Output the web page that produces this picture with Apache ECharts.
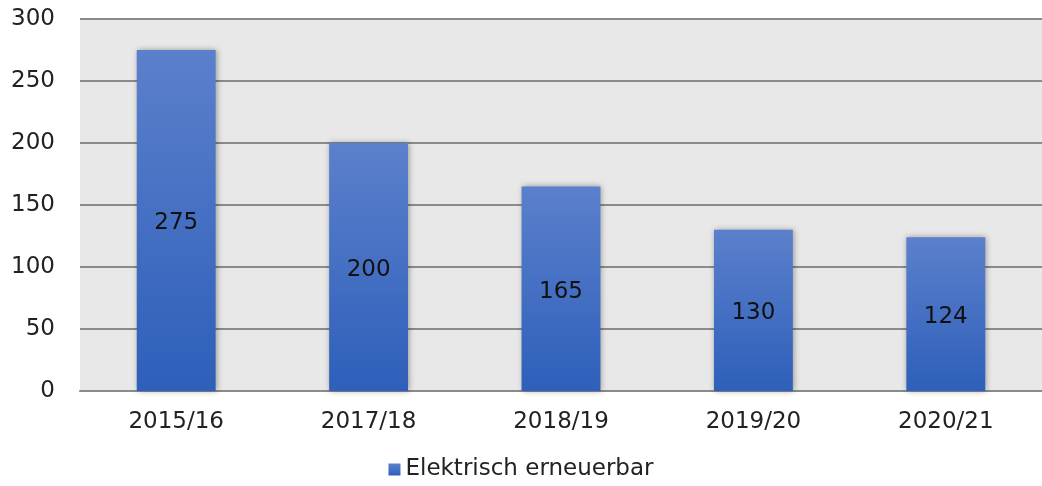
<!DOCTYPE html>
<html>
<head>
<meta charset="utf-8">
<script src="https://cdn.jsdelivr.net/npm/echarts@6/dist/echarts.min.js"></script>
<style>
  html, body { margin: 0; padding: 0; background: #fff; }
  #chart { width: 1042px; height: 486px; }
</style>
</head>
<body>
<div id="chart"></div>
<script>
// Werte
const years = ['2015/16', '2017/18', '2018/19', '2019/20', '2020/21'];
const renewable = [275, 200, 165, 130, 124];
const seriesName = 'Elektrisch erneuerbar';

const font = 'DejaVu Sans';
const chart = echarts.init(document.getElementById('chart'));

chart.setOption({
  animation: false,
  textStyle: { fontFamily: font },
  grid: {
    left: 80,
    top: 19,
    width: 965,
    height: 372,
    show: true,
    backgroundColor: '#e8e8e8',
    borderWidth: 0
  },
  legend: {
    bottom: 0,
    left: 'center',
    itemWidth: 12,
    itemHeight: 12,
    itemGap: 10,
    icon: 'rect',
    textStyle: { fontSize: 23, color: '#222', fontFamily: font },
    data: [seriesName]
  },
  xAxis: {
    type: 'category',
    data: years,
    axisLine: { show: true, lineStyle: { color: '#8a8a8a', width: 2 } },
    axisTick: { show: false },
    axisLabel: { fontSize: 23, color: '#222', margin: 20 }
  },
  yAxis: {
    type: 'value',
    min: 0,
    max: 300,
    interval: 50,
    axisLine: { show: false },
    axisTick: { show: false },
    axisLabel: { fontSize: 23, color: '#222', margin: 25 },
    splitLine: { lineStyle: { color: '#8a8a8a', width: 2 } }
  },
  series: [{
    name: seriesName,
    type: 'bar',
    data: renewable,
    barWidth: '41%',
    itemStyle: {
      color: new echarts.graphic.LinearGradient(0, 0, 0, 1, [
        { offset: 0, color: '#5b80cc' },
        { offset: 1, color: '#2e5fba' }
      ]),
      shadowBlur: 6,
      shadowColor: 'rgba(0,0,0,0.35)',
      shadowOffsetX: 1
    },
    label: {
      show: true,
      position: 'inside',
      offset: [0, 3],
      fontSize: 23,
      color: '#111',
      fontFamily: font
    }
  }]
});
</script>
</body>
</html>
